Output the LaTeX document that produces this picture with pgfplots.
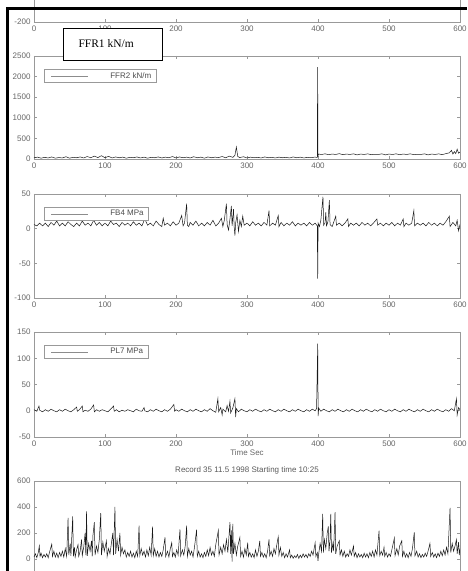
\documentclass[border=0pt]{standalone}
\usepackage{pgfplots}
\pgfplotsset{compat=1.18}
\usepackage{fontspec}
\setmainfont{Liberation Sans}
\newfontfamily\timesfont{Liberation Serif}

\pgfplotsset{
  panel/.style={
    scale only axis, width=426pt,
    xmin=0, xmax=600, xtick={0,100,...,600},
    axis line style={black!40, line width=0.6pt},
    tick style={black!40, line width=0.6pt},
    tick align=inside, major tick length=3pt,
    ticklabel style={font=\fontsize{8}{9}\selectfont, text=black!60},
    /pgf/number format/assume math mode=true,
    /pgf/number format/1000 sep={},
    label style={font=\fontsize{8}{9}\selectfont, text=black!60},
    title style={font=\fontsize{8}{9}\selectfont, text=black!65},
    legend style={anchor=north west, at={(rel axis cs:0,1)},
      xshift=10pt, yshift=-13pt,
      draw=black!40, line width=0.6pt, font=\fontsize{8}{9}\selectfont,
      text=black!70, inner xsep=3pt, inner ysep=1pt},
    legend image code/.code={
      \path[draw=none, fill=none] (0pt,-2pt) rectangle (61pt,2pt);
      \draw[black!45, line width=0.5pt] (4pt,0pt) -- (41pt,0pt);
    },
  },
  sig/.style={black!90, line width=0.5pt},
}

\begin{document}
\begin{tikzpicture}
\path[use as bounding box] (0pt,0pt) rectangle (467pt,571pt);
\clip (0pt,0pt) rectangle (467pt,571pt);

% panel 1 (mostly outside the picture)
\begin{axis}[panel, at={(34pt,549pt)}, anchor=south west, height=104pt,
  ymin=-200, ymax=600, ytick={-200}]
\end{axis}

% panel 2: FFR2
\begin{axis}[panel, at={(34pt,412pt)}, anchor=south west, height=103pt,
  ymin=0, ymax=2500, ytick={0,500,...,2500}]
\addplot[sig] coordinates {
(0,30) (5,45) (10,20) (15,40) (20,25) (25,50) (30,20) (35,35) (40,25) (45,55)
(50,20) (55,40) (60,30) (65,50) (70,25) (75,60) (80,30) (85,70) (90,35) (95,80)
(100,30) (105,65) (110,25) (115,50) (120,30) (125,45) (130,20) (135,40) (140,30) (145,50)
(150,25) (155,45) (160,20) (165,40) (170,30) (175,50) (180,25) (185,45) (190,30) (195,60)
(200,25) (205,50) (210,30) (215,45) (220,25) (225,55) (230,30) (235,45) (240,20) (245,50)
(250,30) (255,45) (260,35) (265,60) (270,30) (275,70) (280,40) (283,90) (285,290) (287,60)
(290,35) (295,55) (300,25) (305,45) (310,30) (315,40) (320,25) (325,50) (330,30) (335,40)
(340,25) (345,45) (350,30) (355,40) (360,25) (365,50) (370,30) (375,45) (380,25) (385,40)
(390,30) (395,45) (399,40) (399.5,2230) (400,60) (400.5,120) (405,110) (410,125) (415,105) (420,120)
(425,110) (430,130) (435,105) (440,120) (445,110) (450,125) (455,100) (460,120) (465,110) (470,125)
(475,105) (480,115) (485,110) (490,125) (495,100) (500,120) (505,110) (510,125) (515,105) (520,120)
(525,110) (530,125) (535,105) (540,115) (545,110) (550,125) (555,100) (560,120) (565,110) (570,125)
(575,105) (580,130) (585,150) (588,210) (590,120) (592,180) (594,130) (596,240) (598,140) (600,170)
};
\addlegendentry{FFR2 kN/m}
\end{axis}

% panel 3: FB4
\begin{axis}[panel, at={(34pt,273pt)}, anchor=south west, height=104pt,
  ymin=-100, ymax=50, ytick={-100,-50,0,50}]
\addplot[sig] coordinates {
(0,6) (4,4) (8,8) (12,4) (16,8) (20,3) (24,9) (28,5) (32,11) (36,4)
(40,8) (44,4) (48,10) (52,6) (56,3) (60,8) (64,4) (68,11) (72,5) (76,8)
(80,4) (84,12) (88,5) (92,9) (96,4) (100,8) (104,4) (108,11) (112,6) (116,8)
(120,3) (124,9) (128,5) (132,8) (136,4) (140,10) (144,5) (148,8) (152,4) (156,14)
(160,5) (164,8) (168,4) (172,11) (176,6) (180,3) (182,15) (184,5) (188,8) (192,4)
(196,10) (200,5) (204,8) (208,19) (210,4) (212,8) (215,36) (216,5) (218,3) (220,9)
(224,5) (228,11) (232,4) (236,8) (240,4) (244,9) (248,5) (252,12) (256,4) (260,8)
(264,15) (266,3) (268,12) (271,36) (272,6) (274,-2) (276,14) (278,33) (279,4) (281,28)
(282,2) (283,-10) (284,8) (286,20) (288,-4) (290,12) (292,3) (294,18) (296,5) (300,8)
(304,4) (308,10) (312,5) (316,8) (320,4) (324,9) (328,5) (331,26) (332,4) (336,8)
(340,5) (344,19) (345,3) (348,9) (352,4) (356,8) (360,5) (364,10) (368,4) (372,8)
(376,5) (380,8) (384,4) (388,9) (392,5) (396,8) (399,4) (399.6,-72) (400.2,8) (402,3)
(404,12) (407,46) (408,5) (410,9) (411,24) (412,4) (414,10) (416,41) (417,6) (420,3)
(425,18) (426,5) (430,8) (434,4) (438,8) (442,14) (443,3) (446,8) (450,5) (454,8)
(458,4) (462,9) (466,5) (470,8) (474,4) (478,8) (483,14) (484,5) (488,8) (492,4)
(496,8) (500,5) (504,9) (508,4) (512,8) (516,5) (520,14) (521,3) (524,8) (528,5)
(532,8) (535,26) (536,4) (540,8) (544,5) (548,8) (552,4) (556,9) (560,5) (564,8)
(568,4) (572,8) (576,5) (580,10) (585,18) (586,3) (590,9) (594,4) (596,12) (598,-3)
(600,6)
};
\addlegendentry{FB4 MPa}
\end{axis}

% panel 4: PL7
\begin{axis}[panel, at={(34pt,134pt)}, anchor=south west, height=105pt,
  ymin=-50, ymax=150, ytick={-50,0,50,100,150},
  xlabel={Time Sec}, xlabel style={yshift=3pt}]
\addplot[sig] coordinates {
(0,2) (4,-1) (7,9) (8,1) (12,-2) (16,2) (20,-1) (24,3) (28,0) (32,-2)
(36,2) (40,-1) (44,3) (48,0) (52,-2) (56,2) (60,7) (61,-1) (64,2) (68,9)
(69,-2) (72,1) (76,-1) (80,3) (84,11) (85,-2) (88,2) (92,-1) (96,2) (100,0)
(104,-2) (108,3) (112,9) (113,-1) (116,2) (120,-2) (124,1) (128,-1) (132,2) (136,0)
(140,-2) (144,3) (148,0) (152,-1) (155,6) (156,0) (160,-2) (164,2) (168,-1) (172,3)
(176,0) (180,-2) (184,2) (188,-1) (192,3) (197,12) (198,-1) (200,2) (204,-1) (208,3)
(212,0) (216,-2) (220,2) (224,-1) (228,3) (232,0) (236,-2) (240,2) (244,-1) (248,4)
(252,0) (256,-3) (259,23) (260,-2) (263,6) (265,-8) (266,3) (270,-2) (272,10) (274,-1)
(276,18) (277,-4) (280,5) (283,23) (284,-12) (285,4) (288,-2) (292,3) (296,0) (300,-2)
(304,2) (308,-1) (312,3) (316,0) (320,-2) (324,2) (328,-1) (332,3) (336,0) (340,-2)
(344,2) (348,-1) (352,3) (356,0) (360,-2) (364,2) (368,-1) (372,3) (376,0) (380,-2)
(384,2) (388,-1) (392,3) (396,0) (398,4) (399.6,128) (400.2,-10) (401,5) (404,-1) (408,3)
(412,0) (416,-2) (420,2) (424,-1) (428,3) (432,0) (436,-2) (440,2) (444,-1) (448,3)
(452,0) (456,-2) (460,2) (464,-1) (468,3) (472,0) (476,-2) (480,2) (484,-1) (488,3)
(492,0) (496,-2) (500,2) (504,-1) (508,3) (512,0) (516,-2) (520,2) (524,-1) (528,3)
(532,0) (536,-2) (540,2) (544,-1) (548,3) (552,0) (556,-2) (560,2) (564,-1) (568,3)
(572,0) (576,-2) (580,2) (584,-1) (588,4) (592,0) (595,23) (596,-8) (598,6) (600,2)
};
\addlegendentry{PL7 MPa}
\end{axis}

% panel 5 (bottom cut by the picture edge)
\begin{axis}[panel, at={(34pt,-14pt)}, anchor=south west, height=104pt,
  ymin=-200, ymax=600, ytick={0,200,400,600}, xticklabels={},
  title={Record 35 11.5 1998 Starting time 10:25}, title style={yshift=-3pt}]
\addplot[sig] coordinates {
(0,15) (2,40) (4,10) (6,50) (7.5,100) (8.5,20) (10,45) (12,10) (14,35) (16,15)
(18,40) (20,10) (22,55) (25,114) (26,20) (28,60) (30,15) (32,45) (34,10) (36,50)
(38,20) (40,60) (42,15) (44,80) (46,20) (48,317) (49,30) (51,120) (52,25) (54.5,327)
(55.5,20) (57,90) (58,15) (60,70) (62,110) (63,20) (65,60) (67,150) (68,25) (70,90)
(72,200) (73,30) (74,366) (75,25) (77,120) (79,60) (81,140) (82,20) (83,180) (85,283)
(86,30) (88,100) (90,50) (92,150) (94,353) (95,30) (97,130) (99,60) (102,140) (103,20)
(105,80) (107,40) (109,120) (111,200) (112,30) (114,400) (115,40) (117,150) (119,60) (121,200)
(122,30) (124,90) (126,40) (128,70) (130,15) (132,50) (134,20) (136,60) (138,15) (140,45)
(142,10) (144,60) (146,20) (148,257) (149,25) (151,80) (153,30) (155,60) (157,15) (159,70)
(161,25) (163,90) (165,30) (167,249) (168,25) (170,80) (172,20) (174,60) (176,15) (178,50)
(180,20) (182,70) (184.5,166) (185.5,20) (188,60) (190,15) (192,80) (194,125) (195,20) (197,50)
(199,15) (201,70) (203,30) (205.6,228) (206.6,25) (209,70) (211,30) (213,100) (215,257) (216,20)
(218,80) (220,30) (222,60) (224,15) (226,90) (229,225) (230,20) (232,60) (234,15) (236,40)
(238,10) (240,50) (242,20) (244,70) (246,25) (248,90) (250,30) (252,60) (254,20) (256,110)
(259.6,218) (260.6,30) (263,90) (265,40) (267,110) (269,60) (271,150) (273,50) (276,283) (277,40)
(278,220) (279,-20) (280,270) (281,40) (283,120) (285,30) (287,100) (290,166) (291,20) (293,60)
(295,15) (297,80) (299,30) (301,125) (302,20) (304,50) (306,15) (308,40) (310,10) (312,70)
(314,20) (316,60) (318,140) (319,20) (321,50) (323,15) (325,40) (327,10) (329,60) (331,150)
(332,25) (334,60) (336,20) (338,80) (340,40) (342,110) (344,171) (345,30) (347,90) (349,20)
(351,50) (353,10) (355,40) (357,15) (360,70) (361,10) (363,30) (365,5) (367,25) (369,10)
(371,35) (373,5) (375,30) (377,10) (379,40) (381,15) (383,35) (385,10) (387,40) (389,20)
(391,60) (393,30) (396,125) (397,20) (399,50) (400,-15) (401,40) (403,120) (405,60) (406.6,348)
(407.6,50) (409,150) (411,80) (413,200) (414.5,250) (415.5,60) (417,150) (418,348) (419,50) (421,120)
(422,60) (424,360) (425,40) (427,100) (430,140) (431,30) (433,70) (435,20) (437,60) (439,15)
(441,40) (443,20) (445,70) (447,30) (450,100) (451,20) (453,50) (455,10) (457,40) (459,15)
(461,35) (463,10) (465,45) (467,15) (469,40) (471,10) (473,50) (475,20) (477,60) (479,15)
(481,70) (483,30) (486,218) (487,25) (489,60) (491,30) (493,90) (494,20) (496,50) (498,15)
(500,40) (502,20) (504,70) (507.5,160) (508.5,25) (511,80) (513,30) (515,100) (518,140) (519,20)
(521,60) (523,15) (525,40) (527,10) (529,50) (531,20) (533,80) (535.6,205) (536.6,25) (539,60)
(541,15) (543,40) (545,10) (547,35) (549,15) (551,45) (553,20) (555,60) (557.7,120) (558.7,20)
(561,50) (563,15) (565,40) (567,10) (569,45) (571,20) (573,60) (575,25) (577,70) (579,30)
(581,90) (583,40) (586,394) (587,50) (589,120) (591,60) (593,100) (595,150) (596,40) (598,130)
(599,30) (600,80)
};
\end{axis}

% pasted label box and scan frame
\node[draw=black, line width=1.3pt, fill=white, minimum width=99pt, minimum height=32pt,
  anchor=north west, inner sep=0pt] at (63pt,543pt) {};
\node[anchor=west, font=\timesfont\fontsize{11.5}{13}\selectfont] at (75pt,527pt) {FFR1 kN/m};
\draw[line width=2.8pt, black] (7.5pt,0pt) -- (7.5pt,562.3pt) -- (467pt,562.3pt);
\end{tikzpicture}
\end{document}
